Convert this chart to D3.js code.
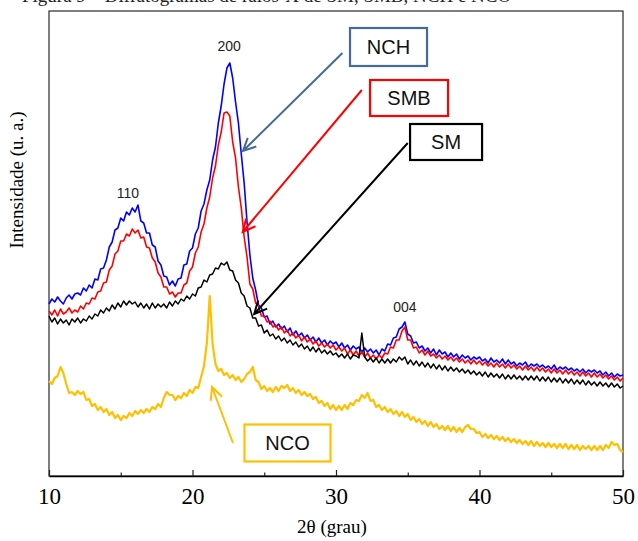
<!DOCTYPE html>
<html>
<head>
<meta charset="utf-8">
<script src="https://cdn.jsdelivr.net/npm/d3@7/dist/d3.min.js"></script>
<style>
  body { margin: 0; background: #fff; }
  svg { display: block; }
</style>
</head>
<body>
<svg id="chart" width="638" height="541"></svg>
<script>
// 2theta grid of the diffractograms: 10 to 50 deg, step 0.2
const thetaStart = 10
const thetaStep = 0.2

// intensities (u. a.), one value per grid step
const nch = [
  172,177,174,179,175,172,178,181,177,182,
  183,181,188,185,191,188,197,196,207,208,
  216,229,234,246,248,258,255,264,261,268,
  264,271,255,253,243,243,231,229,215,211,
  200,199,191,195,190,197,198,211,212,225,
  228,242,248,265,272,286,296,316,329,353,
  370,392,408,413,398,374,353,322,293,254,
  221,198,186,171,168,159,160,152,155,149,
  152,147,150,144,148,141,145,140,143,138,
  141,136,139,134,138,133,136,131,135,132,
  134,129,133,128,131,126,130,127,129,124,
  128,124,127,123,126,121,127,125,132,131,
  138,139,147,149,154,142,140,133,134,128,
  130,125,128,123,127,121,126,122,124,119,
  123,119,122,117,121,118,120,116,119,117,
  119,115,117,113,118,114,116,113,117,112,
  116,112,114,110,113,111,114,109,112,110,
  112,109,111,108,110,107,111,106,109,107,
  109,106,108,105,107,104,107,103,106,104,
  106,103,105,101,104,100,103,99,102,100,
  101
]
const smb = [
  165,161,166,160,167,162,164,168,163,166,
  164,170,167,173,172,178,177,184,185,193,
  194,206,210,222,225,235,235,242,240,247,
  243,246,238,239,229,228,218,214,203,199,
  189,189,182,184,179,183,183,191,193,205,
  209,223,229,244,252,268,279,298,310,331,
  344,363,364,360,334,318,289,268,239,219,
  192,187,173,170,160,160,154,155,149,151,
  146,149,143,146,140,143,138,141,135,139,
  134,137,132,135,130,133,129,132,128,131,
  126,129,125,128,122,126,121,125,120,124,
  119,123,118,121,117,121,118,123,122,129,
  128,136,136,145,149,136,136,128,129,123,
  126,121,125,120,122,118,121,117,120,116,
  119,115,118,114,117,113,116,112,116,112,
  115,111,114,110,113,109,113,109,112,108,
  112,108,111,107,110,106,110,106,109,105,
  109,105,108,104,107,103,107,103,106,102,
  106,102,105,101,104,100,104,100,103,99,
  103,99,102,98,101,97,100,96,99,95,
  98
]
const sm = [
  160,154,158,152,157,153,156,151,157,154,
  158,153,157,155,160,157,162,160,166,163,
  168,165,171,167,173,169,175,171,175,172,
  174,169,173,168,172,167,173,168,172,169,
  172,168,174,170,175,172,177,175,180,177,
  182,180,188,189,196,194,201,202,208,207,
  213,211,214,206,205,196,193,183,180,170,
  168,158,158,150,151,143,146,140,142,137,
  140,135,138,133,136,131,134,129,132,127,
  130,125,129,124,128,123,126,122,125,121,
  123,119,122,118,122,117,121,120,118,143,
  119,115,118,114,118,113,117,113,117,113,
  117,114,119,116,119,112,116,111,115,110,
  114,109,113,108,112,107,111,106,110,105,
  109,105,108,104,107,103,106,102,105,101,
  104,100,104,99,103,99,102,98,102,97,
  101,97,101,97,100,96,100,96,100,96,
  100,95,99,95,99,94,98,94,98,93,
  97,93,97,92,96,92,96,91,95,91,
  94,90,94,90,93,89,93,89,92,88,
  90
]
const nco = [
  95,92,98,100,109,103,92,83,84,81,
  85,82,84,76,77,70,72,66,69,64,
  67,61,64,58,61,56,60,58,63,60,
  65,62,66,63,67,64,69,67,72,69,
  78,84,81,81,76,80,78,83,80,86,
  83,89,88,99,110,133,180,132,112,105,
  107,101,103,98,101,96,99,94,97,102,
  104,109,96,94,87,90,85,88,84,89,
  85,90,88,91,85,88,83,86,81,84,
  80,82,77,79,73,75,70,73,67,71,
  66,70,66,71,67,73,71,76,75,81,
  78,83,75,76,69,71,66,69,64,67,
  62,65,60,64,59,62,56,59,54,57,
  52,55,50,54,49,52,47,50,46,50,
  45,49,44,48,44,49,51,47,47,43,
  44,39,42,38,41,37,40,36,39,35,
  38,34,37,33,36,32,35,31,35,30,
  34,30,33,29,33,29,32,28,32,28,
  32,27,31,27,31,26,30,27,30,26,
  30,26,30,26,31,28,34,31,32,26,
  24
]

const seriesNames = ["NCO", "NCH", "SMB", "SM"]
const seriesColors = ["#ffc000", "#0000ff", "#ff0000", "#000000"]
const seriesWidths = [2.2, 1.6, 1.6, 1.5]
const seriesValues = [nco, nch, smb, sm]

const xTicks = [10, 20, 30, 40, 50]
const xMinorTicks = [15, 25, 35, 45]
const peakLabels = ["110", "200", "004"]

const width = 638, height = 541
const margin = {left: 49, right: 15, top: 11, bottom: 65}

const svg = d3.select("#chart")

const x = d3.scaleLinear()
    .domain([10, 50])
    .range([margin.left, width - margin.right])
const y = d3.scaleLinear()
    .domain([0, 465])
    .range([height - margin.bottom, margin.top])

// frame
svg.append("rect")
    .attr("x", x(10)).attr("y", y(465))
    .attr("width", x(50) - x(10)).attr("height", y(0) - y(465))
    .attr("fill", "none").attr("stroke", "#3a3a3a").attr("stroke-width", 1.3)

// curves
const line = d3.line()
    .x((d, i) => x(thetaStart + i * thetaStep))
    .y(d => y(d))

svg.append("g").selectAll("path")
    .data(seriesValues)
    .enter()
    .append("path")
    .attr("d", d => line(d))
    .attr("fill", "none")
    .attr("stroke", (d, i) => seriesColors[i])
    .attr("stroke-width", (d, i) => seriesWidths[i])
    .attr("stroke-linejoin", "round")

// x axis, ticks pointing inwards
let xAxis = svg.append("g")
    .attr("transform", `translate(0, ${y(0)})`)
    .call(d3.axisBottom(x).tickValues(xTicks).tickFormat(d3.format("d"))
        .tickSizeInner(-6).tickSizeOuter(0).tickPadding(12))
xAxis.select(".domain").attr("stroke", "#000").attr("stroke-width", 1.3)
xAxis.selectAll(".tick line").attr("stroke", "#222").attr("stroke-width", 1.2)
xAxis.selectAll(".tick text")
    .attr("font-family", "'Liberation Serif', 'Times New Roman', serif")
    .attr("font-size", 23).attr("fill", "#000")

let xMinor = svg.append("g")
    .attr("transform", `translate(0, ${y(0)})`)
    .call(d3.axisBottom(x).tickValues(xMinorTicks).tickFormat("")
        .tickSizeInner(-3.5).tickSizeOuter(0))
xMinor.select(".domain").remove()
xMinor.selectAll(".tick line").attr("stroke", "#222").attr("stroke-width", 1.2)

svg.append("text")
    .attr("x", x(30) - 4).attr("y", height - 8)
    .attr("text-anchor", "middle")
    .attr("font-family", "'Liberation Serif', 'Times New Roman', serif")
    .attr("font-size", 19)
    .text("2θ (grau)")

svg.append("text")
    .attr("transform", `translate(23, 180) rotate(-90)`)
    .attr("text-anchor", "middle")
    .attr("font-family", "'Liberation Serif', 'Times New Roman', serif")
    .attr("font-size", 19)
    .text("Intensidade (u. a.)")

// caption of the page above, cut by the picture edge
svg.append("text")
    .attr("x", 22).attr("y", 2)
    .attr("font-family", "'Liberation Serif', 'Times New Roman', serif")
    .attr("font-size", 19).attr("fill", "#222")
    .text("Figura 9 – Difratogramas de raios-X de SM, SMB, NCH e NCO")

// peak labels (theta, intensity)
const peakPos = [[15.5, 278], [22.55, 425], [34.8, 164]]
svg.append("g").selectAll("text")
    .data(peakLabels)
    .enter()
    .append("text")
    .attr("x", (d, i) => x(peakPos[i][0]))
    .attr("y", (d, i) => y(peakPos[i][1]))
    .attr("text-anchor", "middle")
    .attr("font-family", "'Liberation Sans', Arial, sans-serif")
    .attr("font-size", 14).attr("fill", "#222")
    .text(d => d)

// boxed names with arrows, in data coords (theta, intensity)
const callouts = [
  {name: "NCH", color: "#44699b", box: [33.66, 429, 77, 38], from: [30.45, 423], to: [23.52, 325]},
  {name: "SMB", color: "#ff0000", box: [35.09, 378, 78, 36], from: [31.8, 386], to: [23.5, 244]},
  {name: "SM",  color: "#000000", box: [37.67, 334, 72, 36], from: [35.0, 333], to: [24.3, 162]},
  {name: "NCO", color: "#ffc000", box: [26.62, 33, 86, 37], from: [22.82, 33], to: [21.36, 89]}
]

function arrowPath(x1, y1, x2, y2) {
  const a = Math.atan2(y2 - y1, x2 - x1)
  const len = 14, spread = 0.45
  const p1 = [x2 - len * Math.cos(a - spread), y2 - len * Math.sin(a - spread)]
  const p2 = [x2 - len * Math.cos(a + spread), y2 - len * Math.sin(a + spread)]
  return `M${x1},${y1}L${x2},${y2}M${p1[0]},${p1[1]}L${x2},${y2}L${p2[0]},${p2[1]}`
}

callouts.forEach(c => {
  let g = svg.append("g")
  g.append("path")
    .attr("d", arrowPath(x(c.from[0]), y(c.from[1]), x(c.to[0]), y(c.to[1])))
    .attr("fill", "none").attr("stroke", c.color).attr("stroke-width", 2)
  const cx = x(c.box[0]), cy = y(c.box[1])
  g.append("rect")
    .attr("x", cx - c.box[2] / 2).attr("y", cy - c.box[3] / 2)
    .attr("width", c.box[2]).attr("height", c.box[3])
    .attr("fill", "#fff").attr("stroke", c.color).attr("stroke-width", 2.2)
  g.append("text")
    .attr("x", cx).attr("y", cy + 7)
    .attr("text-anchor", "middle")
    .attr("font-family", "'Liberation Sans', Arial, sans-serif")
    .attr("font-size", 20).attr("fill", "#111")
    .text(c.name)
})
</script>
</body>
</html>
